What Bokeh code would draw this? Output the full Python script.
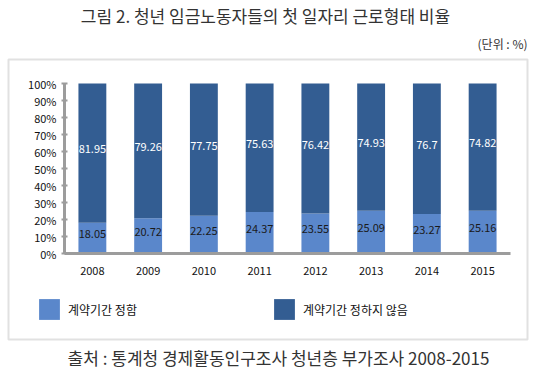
from bokeh.plotting import figure
from bokeh.models import (ColumnDataSource, Range1d, FixedTicker,
                          PrintfTickFormatter, Label, Legend, LegendItem, BoxAnnotation)
from bokeh.core.properties import value
from bokeh.embed import file_html
from bokeh.resources import INLINE

# ---- data ----
years = ["2008", "2009", "2010", "2011", "2012", "2013", "2014", "2015"]
fixed_term = [18.05, 20.72, 22.25, 24.37, 23.55, 25.09, 23.27, 25.16]     # 계약기간 정함
no_fixed_term = [81.95, 79.26, 77.75, 75.63, 76.42, 74.93, 76.7, 74.82]  # 계약기간 정하지 않음
y_ticks = [0, 10, 20, 30, 40, 50, 60, 70, 80, 90, 100]
series_names = ["계약기간 정함", "계약기간 정하지 않음"]
title_text = "그림 2. 청년 임금노동자들의 첫 일자리 근로형태 비율"
unit_text = "(단위 : %)"
source_text = "출처 : 통계청 경제활동인구조사 청년층 부가조사 2008-2015"

FONT = "Noto Sans CJK KR"
LIGHT = "#5A87CB"
DARK = "#335D92"
GRAY = "#9C9C9C"

W, H = 538, 379
# plot-area placement (pixels)
PL, PR, PT, PB = 64, 510, 83, 253
n = len(years)
xs = (PR - PL) / n          # px per category
ys = (PB - PT) / 100.0      # px per percent


def dx(px):
    return (px - PL) / xs


def dy(py):
    return (PB - py) / ys


pos = [i + 0.5 for i in range(n)]
src = ColumnDataSource(dict(
    x=pos,
    fixed=fixed_term,
    nofixed=no_fixed_term,
    fixed_lbl=[str(v) for v in fixed_term],
    nofixed_lbl=[str(v) for v in no_fixed_term],
    fixed_mid=[v / 2 for v in fixed_term],
    nofixed_mid=[a + b / 2 for a, b in zip(fixed_term, no_fixed_term)],
))

p = figure(width=W, height=H, x_range=Range1d(dx(0), dx(W)), y_range=Range1d(dy(H), dy(0)),
           output_backend="svg", toolbar_location=None, title=None, min_border=0)
p.outline_line_color = None
p.xgrid.grid_line_color = None
p.ygrid.grid_line_color = None
p.background_fill_color = "white"
p.border_fill_color = "white"

r = p.vbar_stack(["fixed", "nofixed"], x="x", width=0.5, color=[LIGHT, DARK],
                 line_color=None, source=src)

p.text(x="x", y="fixed_mid", text="fixed_lbl", source=src, text_align="center",
       text_baseline="middle", y_offset=-4, text_font=value(FONT), text_font_size="11px",
       text_color="#1a1a1a")
p.text(x="x", y="nofixed_mid", text="nofixed_lbl", source=src, text_align="center",
       text_baseline="middle", y_offset=-4, text_font=value(FONT), text_font_size="11px",
       text_color="white")

# axes (fixed inside the frame)
ya = p.yaxis[0]
ya.fixed_location = 0
ya.bounds = (0, 100)
ya.ticker = FixedTicker(ticks=y_ticks)
ya.formatter = PrintfTickFormatter(format="%d%%")
ya.axis_line_color = GRAY
ya.axis_line_width = 3
ya.major_tick_line_color = GRAY
ya.major_tick_line_width = 2
ya.major_tick_in = 3
ya.major_tick_out = 3
ya.minor_tick_line_color = None
ya.major_label_standoff = 5
ya.major_label_text_font = FONT
ya.major_label_text_font_size = "11px"
ya.major_label_text_color = "#111111"

xa = p.xaxis[0]
xa.fixed_location = 0
xa.bounds = (0, n)
xa.ticker = FixedTicker(ticks=pos)
xa.major_label_overrides = {p_: y_ for p_, y_ in zip(pos, years)}
xa.axis_line_color = GRAY
xa.axis_line_width = 3
xa.major_tick_line_color = None
xa.minor_tick_line_color = None
xa.major_label_standoff = 7
xa.major_label_text_font = FONT
xa.major_label_text_font_size = "11px"
xa.major_label_text_color = "#111111"

# surrounding box
p.add_layout(BoxAnnotation(left=dx(8), right=dx(527), top=dy(59), bottom=dy(339),
                           fill_color=None, line_color=GRAY, line_width=2))

# texts
p.add_layout(Label(x=dx(265), y=dy(15), text=title_text,
                   text_align="center", text_baseline="middle", text_font=FONT,
                   text_font_size="17px", text_color="#333333"))
p.add_layout(Label(x=dx(527), y=dy(43), text=unit_text,
                   text_align="right", text_baseline="middle", text_font=FONT,
                   text_font_size="12px", text_color="#333333"))
p.add_layout(Label(x=dx(278), y=dy(357), text=source_text,
                   text_align="center", text_baseline="middle", text_font=FONT,
                   text_font_size="17px", text_color="#333333"))

# legends
for rr, name, lx in [(r[0], series_names[0], 36), (r[1], series_names[1], 271)]:
    lg = Legend(items=[LegendItem(label=name, renderers=[rr])], location=(lx, H - 322),
                orientation="horizontal", glyph_width=26, glyph_height=26,
                padding=0, margin=0, border_line_color=None, background_fill_alpha=0,
                label_standoff=6, label_height=4, label_text_font=FONT,
                label_text_font_size="12px", label_text_baseline="bottom",
                label_text_color="#111111")
    p.add_layout(lg)

open("out.html", "w").write(file_html(p, INLINE))
